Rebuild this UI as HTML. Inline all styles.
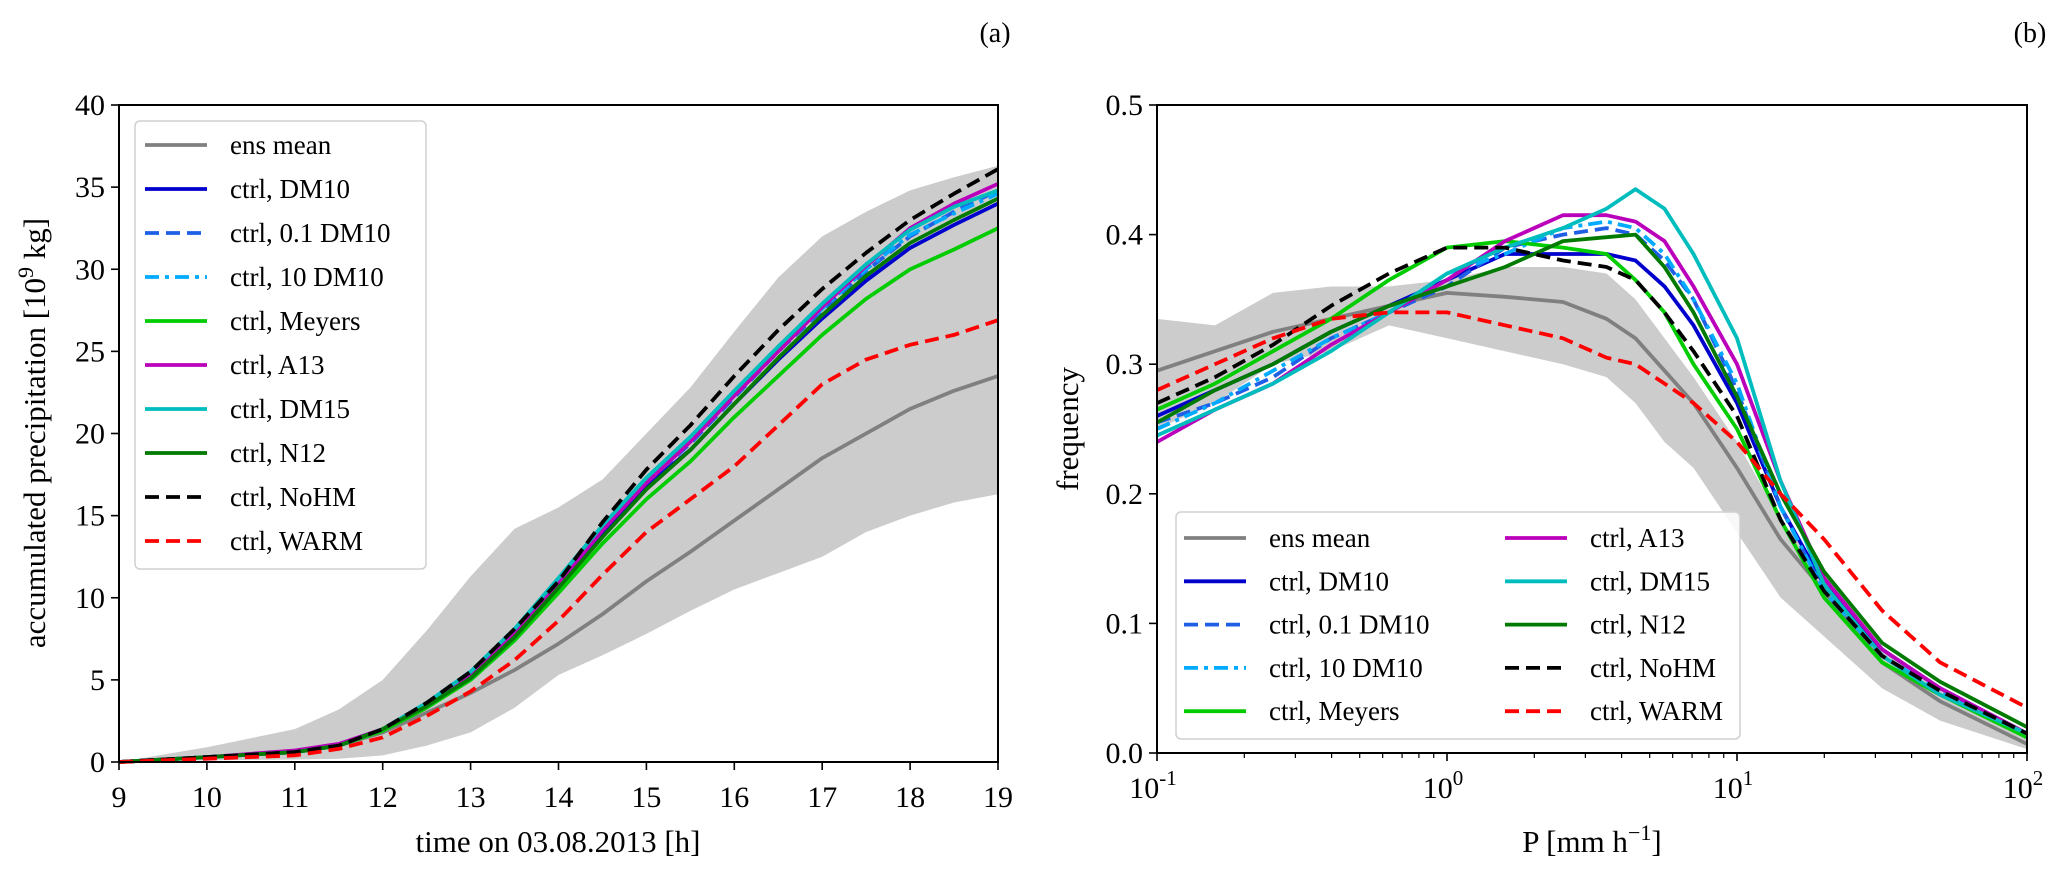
<!DOCTYPE html>
<html><head><meta charset="utf-8">
<style>
html,body{margin:0;padding:0;background:#fff;}
svg{display:block;}
text{font-family:"Liberation Serif","DejaVu Serif",serif;fill:#000;}
</style></head>
<body>
<svg id="fig" width="2067" height="881" viewBox="0 0 2067 881" xmlns="http://www.w3.org/2000/svg"></svg>
<script>
// ---------- Panel (a) data ----------
const timeHours = [9,10,11,11.5,12,12.5,13,13.5,14,14.5,15,15.5,16,16.5,17,17.5,18,18.5,19];
const bandUpperA = [0,0.9,2.0,3.2,5.0,8.0,11.3,14.2,15.5,17.2,20.0,22.8,26.2,29.5,32,33.5,34.8,35.6,36.3];
const bandLowerA = [0,0.1,0.15,0.2,0.4,1.0,1.8,3.3,5.3,6.5,7.8,9.2,10.5,11.5,12.5,14,15,15.8,16.3];
const ensMeanA = [0,0.3,0.6,1.0,1.8,3.0,4.2,5.6,7.2,9.0,11.0,12.8,14.7,16.6,18.5,20.0,21.5,22.6,23.5];
const dm10A    = [0,0.3,0.6,1.0,2.0,3.5,5.3,7.8,10.8,14.0,16.8,19.0,21.8,24.5,27.0,29.3,31.3,32.7,34.0];
const dm10_01A = [0,0.3,0.6,1.0,2.0,3.6,5.5,8.0,11.0,14.2,17.0,19.4,22.2,25.0,27.5,29.9,32.0,33.5,34.8];
const dm10_10A = [0,0.3,0.6,1.0,2.0,3.6,5.5,8.1,11.1,14.3,17.1,19.5,22.3,25.1,27.6,30.0,32.1,33.4,34.6];
const meyersA  = [0,0.3,0.6,1.0,1.9,3.3,5.0,7.4,10.3,13.3,16.0,18.3,21.0,23.5,26.0,28.2,30.0,31.2,32.5];
const a13A     = [0,0.3,0.7,1.1,2.0,3.5,5.3,7.9,10.9,14.1,17.0,19.5,22.3,25.0,27.7,30.2,32.5,34.0,35.2];
const dm15A    = [0,0.3,0.6,1.0,2.0,3.6,5.5,8.1,11.2,14.4,17.3,19.8,22.6,25.3,27.9,30.3,32.4,33.8,34.8];
const n12A     = [0,0.3,0.6,1.0,2.0,3.4,5.1,7.6,10.6,13.7,16.6,19.0,21.8,24.6,27.2,29.6,31.6,33.0,34.3];
const nohmA    = [0,0.3,0.6,1.0,2.0,3.6,5.5,8.1,11.0,14.6,17.8,20.5,23.5,26.3,28.8,31.0,33.0,34.6,36.1];
const warmA    = [0,0.2,0.4,0.8,1.5,2.8,4.3,6.2,8.6,11.4,14.0,16.0,18.0,20.5,23.0,24.5,25.4,26.0,26.9];
const xTicksA = [9,10,11,12,13,14,15,16,17,18,19];
const yTicksA = [0,5,10,15,20,25,30,35,40];

// ---------- Panel (b) data ----------
const logP = [-1,-0.8,-0.6,-0.4,-0.2,0,0.2,0.4,0.55,0.65,0.75,0.85,1.0,1.15,1.3,1.5,1.7,2.0];
const bandUpperB = [0.335,0.33,0.355,0.36,0.36,0.365,0.375,0.375,0.37,0.35,0.32,0.29,0.24,0.18,0.14,0.08,0.05,0.015];
const bandLowerB = [0.25,0.27,0.30,0.31,0.33,0.32,0.31,0.30,0.29,0.27,0.24,0.22,0.17,0.12,0.09,0.05,0.025,0.003];
const ensMeanB = [0.295,0.31,0.325,0.335,0.345,0.355,0.352,0.348,0.335,0.32,0.295,0.27,0.22,0.165,0.125,0.07,0.04,0.007];
const dm10B    = [0.26,0.28,0.30,0.325,0.345,0.365,0.385,0.385,0.385,0.38,0.36,0.33,0.27,0.19,0.13,0.08,0.05,0.015];
const dm10_01B = [0.255,0.27,0.29,0.32,0.34,0.36,0.39,0.40,0.405,0.40,0.38,0.35,0.28,0.19,0.125,0.075,0.048,0.015];
const dm10_10B = [0.25,0.27,0.295,0.32,0.34,0.37,0.385,0.405,0.41,0.405,0.385,0.35,0.285,0.19,0.125,0.075,0.048,0.015];
const meyersB  = [0.265,0.285,0.31,0.335,0.365,0.39,0.395,0.39,0.385,0.365,0.34,0.30,0.25,0.18,0.12,0.07,0.045,0.012];
const a13B     = [0.24,0.265,0.285,0.315,0.34,0.365,0.395,0.415,0.415,0.41,0.395,0.36,0.30,0.21,0.135,0.08,0.05,0.015];
const dm15B    = [0.245,0.265,0.285,0.31,0.34,0.37,0.39,0.405,0.42,0.435,0.42,0.385,0.32,0.21,0.13,0.075,0.045,0.015];
const n12B     = [0.255,0.28,0.30,0.325,0.345,0.36,0.375,0.395,0.398,0.40,0.375,0.34,0.275,0.20,0.14,0.085,0.055,0.02];
const nohmB    = [0.27,0.29,0.315,0.345,0.37,0.39,0.39,0.38,0.375,0.365,0.34,0.31,0.26,0.18,0.125,0.075,0.048,0.015];
const warmB    = [0.28,0.30,0.32,0.335,0.34,0.34,0.33,0.32,0.305,0.30,0.285,0.27,0.24,0.20,0.165,0.11,0.07,0.035];
const yTicksB = [0.0,0.1,0.2,0.3,0.4,0.5];
const xDecadesB = [-1,0,1,2];

const NS="http://www.w3.org/2000/svg";
const svg=document.getElementById('fig');
function mk(tag,attrs,parent){const e=document.createElementNS(NS,tag);for(const k in attrs)e.setAttribute(k,attrs[k]);(parent||svg).appendChild(e);return e;}

const styles={
 ens:{c:'#808080',d:''}, dm10:{c:'#0000cc',d:''}, dm10_01:{c:'#1f5fe6',d:'14,7'},
 dm10_10:{c:'#00aaff',d:'14,6,4,6'}, meyers:{c:'#00cc00',d:''}, a13:{c:'#bb00bb',d:''},
 dm15:{c:'#00bdbd',d:''}, n12:{c:'#007a00',d:''}, nohm:{c:'#000000',d:'14,7'}, warm:{c:'#ff0000',d:'14,7'}
};
const labels={ens:'ens mean',dm10:'ctrl, DM10',dm10_01:'ctrl, 0.1 DM10',dm10_10:'ctrl, 10 DM10',meyers:'ctrl, Meyers',a13:'ctrl, A13',dm15:'ctrl, DM15',n12:'ctrl, N12',nohm:'ctrl, NoHM',warm:'ctrl, WARM'};

function drawPanel(p){
 const g=mk('g',{});
 
 
 let d='';
 p.xs.forEach((x,i)=>{d+=(i?'L':'M')+p.sx(x)+','+p.sy(p.up[i]);});
 for(let i=p.xs.length-1;i>=0;i--) d+='L'+p.sx(p.xs[i])+','+p.sy(p.lo[i]);
 const band=mk('path',{d:d+'Z',fill:'#cccccc',stroke:'none'},g);
 
 
 const order=['ens','dm10','dm10_01','dm10_10','meyers','a13','dm15','n12','nohm','warm'];
 order.forEach(k=>{
  const ys=p.series[k];
  let pd='';
  p.xs.forEach((x,i)=>{pd+=(i?'L':'M')+p.sx(x).toFixed(1)+','+p.sy(ys[i]).toFixed(1);});
  const l=mk('path',{d:pd,fill:'none',stroke:styles[k].c,'stroke-width':3.8,'stroke-dasharray':styles[k].d,'stroke-linejoin':'round'},g);
  
  
 });
 const fr=mk('rect',{x:p.L,y:p.T,width:p.R-p.L,height:p.B-p.T,fill:'none',stroke:'#000','stroke-width':2},g);
 
 
}

// ---------- Panel (a) ----------
const A={L:119,R:998,T:105,B:762};
const sxA=v=>A.L+(v-9)/10*(A.R-A.L);
const syA=v=>A.B-v/40*(A.B-A.T);
drawPanel({name:'panel-a',L:A.L,R:A.R,T:A.T,B:A.B,sx:sxA,sy:syA,xs:timeHours,up:bandUpperA,lo:bandLowerA,
 series:{ens:ensMeanA,dm10:dm10A,dm10_01:dm10_01A,dm10_10:dm10_10A,meyers:meyersA,a13:a13A,dm15:dm15A,n12:n12A,nohm:nohmA,warm:warmA}});
xTicksA.forEach(v=>{
 mk('line',{x1:sxA(v),x2:sxA(v),y1:A.B,y2:A.B+8,stroke:'#000','stroke-width':1.6});
 const t=mk('text',{x:sxA(v),y:A.B+45,'font-size':30,'text-anchor':'middle'});t.textContent=v;
 
 
});
yTicksA.forEach(v=>{
 mk('line',{x1:A.L-8,x2:A.L,y1:syA(v),y2:syA(v),stroke:'#000','stroke-width':1.6});
 const t=mk('text',{x:A.L-14,y:syA(v)+10,'font-size':30,'text-anchor':'end'});t.textContent=v;
 
 
});
// ---------- Panel (b) ----------
const B={L:1157,R:2027,T:105,B:753};
const sxB=v=>B.L+(v+1)/3*(B.R-B.L);
const syB=v=>B.B-v/0.5*(B.B-B.T);
drawPanel({name:'panel-b',L:B.L,R:B.R,T:B.T,B:B.B,sx:sxB,sy:syB,xs:logP,up:bandUpperB,lo:bandLowerB,
 series:{ens:ensMeanB,dm10:dm10B,dm10_01:dm10_01B,dm10_10:dm10_10B,meyers:meyersB,a13:a13B,dm15:dm15B,n12:n12B,nohm:nohmB,warm:warmB}});
xDecadesB.forEach(v=>{
 mk('line',{x1:sxB(v),x2:sxB(v),y1:B.B,y2:B.B+8,stroke:'#000','stroke-width':1.6});
 const t=mk('text',{x:sxB(v)-4,y:B.B+45,'font-size':30,'text-anchor':'middle'});
 t.innerHTML='10<tspan dy="-13" font-size="21">'+v+'</tspan>';
 
 
 if(v<2){for(let m=2;m<10;m++){const xm=sxB(v+Math.log10(m));
  mk('line',{x1:xm,x2:xm,y1:B.B,y2:B.B+5,stroke:'#000','stroke-width':1.2});}}
});
yTicksB.forEach(v=>{
 mk('line',{x1:B.L-8,x2:B.L,y1:syB(v),y2:syB(v),stroke:'#000','stroke-width':1.6});
 const t=mk('text',{x:B.L-14,y:syB(v)+10,'font-size':30,'text-anchor':'end'});t.textContent=v.toFixed(1);
 
 
});

// ---------- Legends ----------
function legendEntry(k,x,y){
 const g=mk('g',{});
 
 
 mk('line',{x1:x,x2:x+62,y1:y,y2:y,stroke:styles[k].c,'stroke-width':3.8,'stroke-dasharray':styles[k].d},g);
 const t=mk('text',{x:x+85,y:y+9,'font-size':27},g);t.textContent=labels[k];
}
const lgA=mk('rect',{x:135,y:121,width:291,height:448,rx:5,fill:'#fff','fill-opacity':0.85,stroke:'#d0d0d0','stroke-width':1.5});


['ens','dm10','dm10_01','dm10_10','meyers','a13','dm15','n12','nohm','warm'].forEach((k,i)=>legendEntry(k,145,145+i*44));
const lgB=mk('rect',{x:1176,y:512,width:564,height:227,rx:5,fill:'#fff','fill-opacity':0.85,stroke:'#d0d0d0','stroke-width':1.5});


['ens','dm10','dm10_01','dm10_10','meyers'].forEach((k,i)=>legendEntry(k,1184,538+i*43.3));
['a13','dm15','n12','nohm','warm'].forEach((k,i)=>legendEntry(k,1505,538+i*43.3));
</script>
<svg width="2067" height="881" style="position:absolute;left:0;top:0;pointer-events:none" xmlns="http://www.w3.org/2000/svg">
<text x="995" y="42" font-size="28" text-anchor="middle">(a)</text>
<text x="2030" y="42" font-size="28" text-anchor="middle">(b)</text>
<text transform="translate(45,433) rotate(-90)" font-size="31" text-anchor="middle">accumulated precipitation [10<tspan dy="-12" font-size="22">9</tspan><tspan dy="12"> kg]</tspan></text>
<text x="558" y="852" font-size="31" text-anchor="middle">time on 03.08.2013 [h]</text>
<text transform="translate(1078,429) rotate(-90)" font-size="31" text-anchor="middle">frequency</text>
<text x="1592" y="852" font-size="31" text-anchor="middle">P [mm h<tspan dy="-12" font-size="22">−1</tspan><tspan dy="12">]</tspan></text>
</svg>
</body></html>
